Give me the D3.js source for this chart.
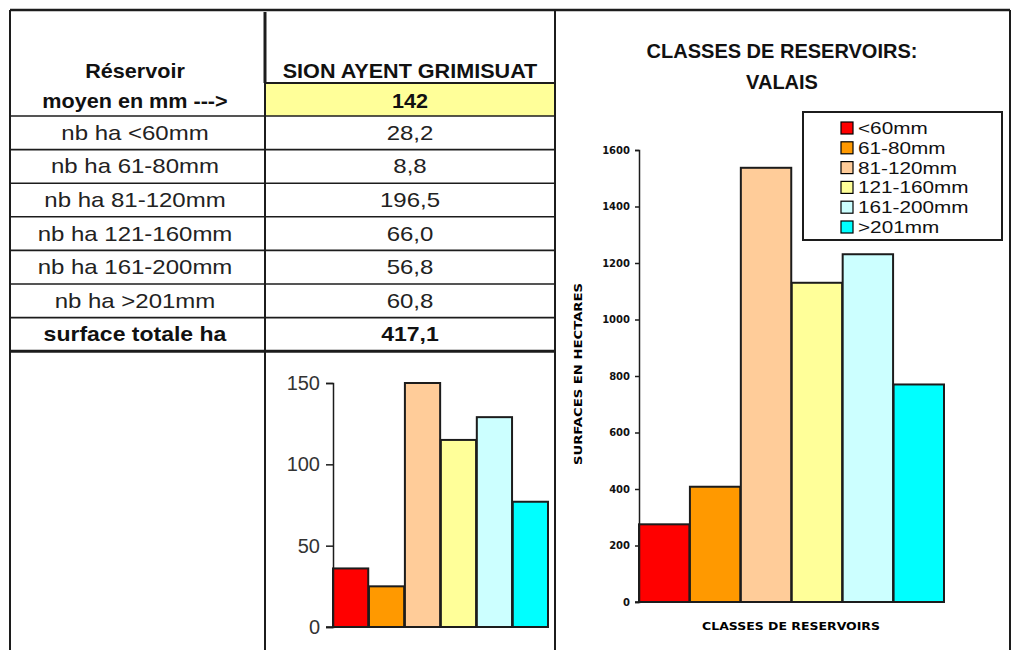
<!DOCTYPE html>
<html>
<head>
<meta charset="utf-8">
<script src="https://cdn.jsdelivr.net/npm/d3@7/dist/d3.min.js"></script>
<style>
  body { margin: 0; background: #fff; }
  svg { display: block; font-family: "Liberation Sans", Arial, sans-serif; }
</style>
</head>
<body>
<script>
// data
const rowLabels = ["nb ha <60mm", "nb ha 61-80mm", "nb ha 81-120mm", "nb ha 121-160mm", "nb ha 161-200mm", "nb ha >201mm"];
const rowValues = [28.2, 8.8, 196.5, 66.0, 56.8, 60.8];
const meanReservoir = 142;
const siteName = "SION AYENT GRIMISUAT";

const classes = ["<60mm", "61-80mm", "81-120mm", "121-160mm", "161-200mm", ">201mm"];
const classColors = ["#ff0000", "#ff9900", "#ffcc99", "#ffff99", "#ccffff", "#00ffff"];
const localValues = [36, 25, 150, 115, 129, 77];
const valaisValues = [275, 408, 1537, 1130, 1231, 770];
const localTicks = [0, 50, 100, 150];
const valaisTicks = [0, 200, 400, 600, 800, 1000, 1200, 1400, 1600];

const W = 1011, H = 650;
const svg = d3.select("body").append("svg").attr("width", W).attr("height", H);
const ink = "#1c1c1c";
const fmt = v => d3.format(".1f")(v).replace(".", ",");

// text squeezed/stretched horizontally like the old screenshot
function label(g, txt, x, y, opt) {
  opt = opt || {};
  return g.append("text")
    .attr("transform", `translate(${x},${y}) scale(${opt.sx || 1},1)`)
    .attr("text-anchor", opt.anchor || "middle")
    .attr("font-size", opt.size || 20)
    .attr("font-weight", opt.bold ? "bold" : "normal")
    .attr("fill", opt.fill || "#111")
    .text(txt);
}

// ---- table ----
const tbl = svg.append("g");
const colL = 10, colM = 265, colR = 555;
const rowY = d3.range(rowLabels.length + 2).map(i => 116 + i * 33.6);

tbl.append("rect").attr("x", colM).attr("y", 83).attr("width", colR - colM).attr("height", 33)
  .attr("fill", "#ffff99");

label(tbl, "Réservoir", 135, 78, {bold: true, sx: 1.08});
label(tbl, "moyen en mm --->", 135, 108, {bold: true, sx: 1.08});
label(tbl, siteName, (colM + colR) / 2, 78, {bold: true, size: 20, sx: 1.08});
label(tbl, meanReservoir, (colM + colR) / 2, 108, {bold: true, sx: 1.08});

rowLabels.forEach((t, i) => {
  const cy = (rowY[i] + rowY[i + 1]) / 2 + 7;
  label(tbl, t, 135, cy, {sx: 1.2, fill: "#222"});
  label(tbl, fmt(rowValues[i]), (colM + colR) / 2, cy, {sx: 1.2, fill: "#222"});
});
const lastY = (rowY[6] + rowY[7]) / 2 + 7;
label(tbl, "surface totale ha", 135, lastY, {bold: true, sx: 1.15});
label(tbl, fmt(d3.sum(rowValues)), (colM + colR) / 2, lastY, {bold: true, sx: 1.15});

const hline = (x1, x2, y, w) => tbl.append("line").attr("x1", x1).attr("x2", x2)
  .attr("y1", y).attr("y2", y).attr("stroke", ink).attr("stroke-width", w);
const vline = (x, y1, y2, w) => tbl.append("line").attr("x1", x).attr("x2", x)
  .attr("y1", y1).attr("y2", y2).attr("stroke", ink).attr("stroke-width", w);

hline(colL, 1010, 10, 2.5);
vline(colL, 10, H, 2);
vline(1010, 10, H, 2);
vline(colR, 10, H, 2);
vline(colM, 12, 83, 3);
vline(colM, 83, H, 2);
hline(colM, colR, 83, 2);
rowY.slice(0, 7).forEach(y => hline(colL, colR, y, 1.6));
hline(colL, colR, rowY[7], 3);

// ---- small bar chart (site) ----
const xs = d3.scaleBand().domain(classes).range([333, 548]).paddingInner(0.02);
const ys = d3.scaleLinear().domain([0, 150]).range([627, 383]);
const sc = svg.append("g");
sc.selectAll("rect").data(localValues).join("rect")
  .attr("x", (d, i) => xs(classes[i]))
  .attr("width", xs.bandwidth())
  .attr("y", d => ys(d))
  .attr("height", d => ys(0) - ys(d))
  .attr("fill", (d, i) => classColors[i])
  .attr("stroke", ink).attr("stroke-width", 2);
const axS = sc.append("g").attr("transform", "translate(333,0)")
  .call(d3.axisLeft(ys).tickValues(localTicks).tickSize(7).tickPadding(6));
axS.select(".domain").attr("stroke", ink).attr("stroke-width", 1.5);
axS.selectAll(".tick line").attr("stroke", ink).attr("stroke-width", 1.5);
axS.selectAll("text").attr("font-size", 20).attr("fill", "#333")
  .attr("font-family", "Liberation Sans, Arial, sans-serif");
sc.append("line").attr("x1", 326).attr("x2", 548).attr("y1", ys(0)).attr("y2", ys(0))
  .attr("stroke", ink).attr("stroke-width", 1.5);

// ---- Valais chart ----
const xv = d3.scaleBand().domain(classes).range([639, 944]).paddingInner(0.01);
const yv = d3.scaleLinear().domain([0, 1600]).range([602, 150]);
const vc = svg.append("g");
label(vc, "CLASSES DE RESERVOIRS:", 782, 58, {bold: true, size: 20});
label(vc, "VALAIS", 782, 89, {bold: true, size: 20});

vc.selectAll("rect.bar").data(valaisValues).join("rect").attr("class", "bar")
  .attr("x", (d, i) => xv(classes[i]))
  .attr("width", xv.bandwidth())
  .attr("y", d => yv(d))
  .attr("height", d => yv(0) - yv(d))
  .attr("fill", (d, i) => classColors[i])
  .attr("stroke", ink).attr("stroke-width", 2);
const axV = vc.append("g").attr("transform", "translate(639,0)")
  .call(d3.axisLeft(yv).tickValues(valaisTicks).tickFormat(d3.format("d")).tickSize(4).tickPadding(5));
axV.select(".domain").attr("stroke", ink).attr("stroke-width", 1.5);
axV.selectAll(".tick line").attr("stroke", ink).attr("stroke-width", 1.5);
axV.selectAll("text").attr("font-size", 10).attr("font-weight", "bold").attr("fill", "#111")
  .attr("font-family", "DejaVu Sans, sans-serif");
vc.append("line").attr("x1", 635).attr("x2", 944).attr("y1", yv(0)).attr("y2", yv(0))
  .attr("stroke", ink).attr("stroke-width", 1.5);

vc.append("text").attr("x", 791).attr("y", 630).attr("text-anchor", "middle")
  .attr("font-family", "DejaVu Sans, sans-serif").attr("font-weight", "bold")
  .attr("font-size", 10).attr("textLength", 178).attr("lengthAdjust", "spacingAndGlyphs")
  .text("CLASSES DE RESERVOIRS");
vc.append("text").attr("transform", "translate(582,374) rotate(-90)").attr("text-anchor", "middle")
  .attr("font-family", "DejaVu Sans, sans-serif").attr("font-weight", "bold")
  .attr("font-size", 10).attr("textLength", 182).attr("lengthAdjust", "spacingAndGlyphs")
  .text("SURFACES EN HECTARES");

// legend
const lg = vc.append("g");
lg.append("rect").attr("x", 803).attr("y", 112).attr("width", 199).attr("height", 128)
  .attr("fill", "#fff").attr("stroke", ink).attr("stroke-width", 2);
const li = lg.selectAll("g.item").data(classes).join("g").attr("class", "item")
  .attr("transform", (d, i) => `translate(841,${128 + i * 19.8})`);
li.append("rect").attr("x", 0).attr("y", -6).attr("width", 12).attr("height", 12)
  .attr("fill", (d, i) => classColors[i]).attr("stroke", "#000").attr("stroke-width", 1.2);
li.append("text").attr("transform", "translate(17,6) scale(1.22,1)")
  .attr("font-size", 17).attr("fill", "#111")
  .text(d => d);
</script>
</body>
</html>
